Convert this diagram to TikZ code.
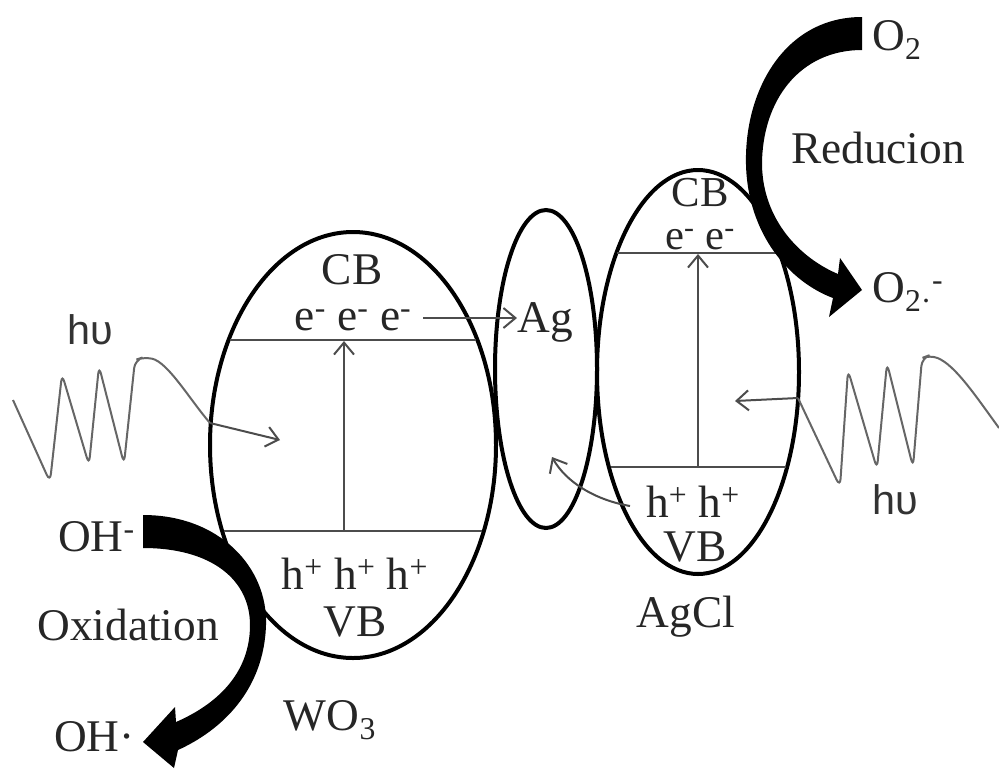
\documentclass[tikz,border=0pt]{standalone}
\usepackage{fontspec}
\setmainfont{Liberation Serif}
\newfontfamily\hvfont{Liberation Sans}
\usetikzlibrary{shapes.geometric,arrows.meta}
\begin{document}
\begin{tikzpicture}[x=0.75pt,y=-0.75pt,
  lbl/.style={font=\fontsize{34}{36}\selectfont, inner sep=0pt, text=black!85},
  hvlbl/.style={font=\hvfont\fontsize{31}{34}\selectfont, inner sep=0pt, text=black!80},
  band/.style={draw=black!70, line width=1.5pt},
  oval/.style={draw=black, line width=3pt, ellipse, inner sep=0pt},
  openarr/.style={draw=black!70, line width=1.5pt, -{Straight Barb[length=9pt,width=15pt]}},
  wave/.style={draw=black!60, line width=1.5pt, rounded corners=6pt},
  bigarr/.style={fill=black}]
\useasboundingbox (0,0) rectangle (999,768);

% ellipses
\node[oval, minimum width=214.5pt, minimum height=319.5pt] (wo3) at (353,445) {};
\node[oval, minimum width=76.5pt, minimum height=238.5pt] (agov) at (546,369) {};
\node[oval, minimum width=151.5pt, minimum height=303pt] (agcl) at (698,372) {};

% band lines
\coordinate (wcbL) at (230,340); \coordinate (wcbR) at (476,340);
\coordinate (wvbL) at (224,531); \coordinate (wvbR) at (482,531);
\coordinate (acbL) at (617,253); \coordinate (acbR) at (778,253);
\coordinate (avbL) at (611,467); \coordinate (avbR) at (786,467);
\draw[band] (wcbL) -- (wcbR);
\draw[band] (wvbL) -- (wvbR);
\draw[band] (acbL) -- (acbR);
\draw[band] (avbL) -- (avbR);

% excitation arrows
\coordinate (wup0) at (344,531); \coordinate (wup1) at (344,341);
\coordinate (aup0) at (698,467); \coordinate (aup1) at (698,254);
\draw[openarr] (wup0) -- (wup1);
\draw[openarr] (aup0) -- (aup1);

% labels WO3
\node[lbl] (wcb) at (352,270) {CB};
\node[lbl] (we) at (353,320) {e\textsuperscript{-} e\textsuperscript{-} e\textsuperscript{-}};
\node[lbl] (wh) at (355,574) {h\textsuperscript{+} h\textsuperscript{+} h\textsuperscript{+}};
\node[lbl] (wvb) at (355,622) {VB};
\node[lbl] (wname) at (330,720) {WO\textsubscript{3}};

% Ag
\node[lbl, anchor=west] (ag) at (517,322) {Ag};
\coordinate (eend) at (423,318);
\draw[openarr] (eend) -- (ag.west |- eend);

% AgCl labels
\node[lbl, align=center, font=\fontsize{32}{32}\selectfont] (acb) at (700,214) {CB\\e\textsuperscript{-} e\textsuperscript{-}};
\node[lbl] (ah) at (693,502) {h\textsuperscript{+} h\textsuperscript{+}};
\node[lbl] (avb) at (695,547) {VB};
\node[lbl] (aname) at (686,617) {AgCl};

% hole transfer to Ag
\coordinate (hs) at (630,506);
\coordinate (ht) at (552,457);
\draw[openarr] (hs) .. controls (595,500) and (566,482) .. (ht);

% light waves
\node[hvlbl] (hv1) at (90,330) {hυ};
\node[hvlbl] (hv2) at (895,500) {hυ};
\coordinate (w1e) at (210,423); \coordinate (w1t) at (280,440);
\draw[wave] (13,400) -- (50,482) -- (62,374) -- (89,465) -- (99,366) -- (124,464) -- (135,360) -- (144,357) .. controls (168,362) and (190,400) .. (w1e);
\draw[openarr] (w1e) -- (w1t);
\coordinate (w2s) at (798,398); \coordinate (w2t) at (735,401);
\draw[wave] (w2s) -- (840,487) -- (848,370) -- (877,469) -- (887,363) -- (913,467) -- (922,358) -- (930,355) .. controls (955,365) and (975,395) .. (999,428);
\draw[openarr] (w2s) -- (w2t);

% reduction arrow
\fill[bigarr] (862,17) .. controls (785,17) and (744,90) .. (746,165) .. controls (748,235) and (790,282) .. (833,298) -- (829,317) -- (862,290) -- (840,258) -- (838,274) .. controls (800,258) and (763,220) .. (762,165) .. controls (762,100) and (800,50) .. (862,50) -- cycle;
\node[lbl, anchor=west] (o2) at (872,40) {O\textsubscript{2}};
\node[lbl] (red) at (878,148) {Reducion};
\node[lbl, anchor=west] (o2r) at (872,292) {O\textsubscript{2·}\textsuperscript{-}};

% oxidation arrow
\fill[bigarr] (143,515) .. controls (220,515) and (268,568) .. (266,625) .. controls (264,690) and (222,730) .. (178,750) -- (174,768) -- (143,742) -- (175,707) -- (176,722) .. controls (215,705) and (250,675) .. (250,625) .. controls (250,580) and (212,548) .. (143,548) -- cycle;
\node[lbl, anchor=east] (oh1) at (135,537) {OH\textsuperscript{-}};
\node[lbl] (ox) at (128,625) {Oxidation};
\node[lbl, anchor=east] (oh2) at (135,737) {OH·};
\end{tikzpicture}
\end{document}
